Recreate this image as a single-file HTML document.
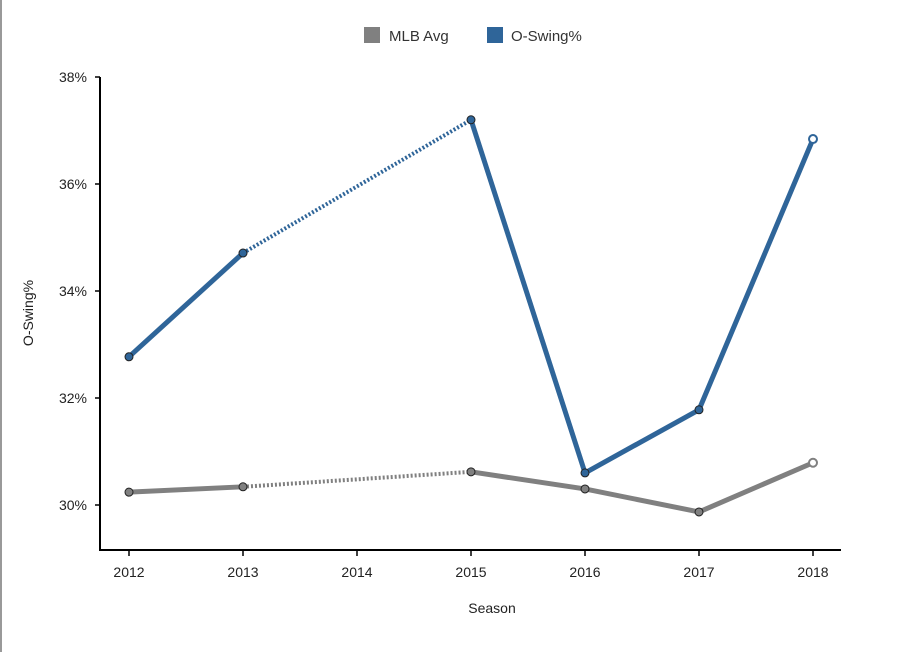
<!DOCTYPE html>
<html><head><meta charset="utf-8"><style>
body{margin:0;background:#fff;}
svg{display:block;font-family:"Liberation Sans",sans-serif;}
</style></head><body>
<svg id="chart" width="900" height="652">
<line x1="1" y1="0" x2="1" y2="652" stroke="#999" stroke-width="2"/>
<g>
<rect x="364" y="27" width="16" height="16" fill="#808080"/>
<text x="389" y="41" font-size="15" fill="#333">MLB Avg</text>
<rect x="487" y="27" width="16" height="16" fill="#2f6599"/>
<text x="511" y="41" font-size="15" fill="#333">O-Swing%</text>
</g>
<g id="axes"></g>
<g id="series"></g>
<text x="33" y="313" font-size="14" fill="#222" text-anchor="middle" transform="rotate(-90 33 313)">O-Swing%</text>
<text x="492" y="613" font-size="14" fill="#222" text-anchor="middle">Season</text>
</svg>
<script>
const years = [2012, 2013, 2014, 2015, 2016, 2017, 2018];
const yTicks = [30, 32, 34, 36, 38];
const oswingYears = [2012, 2013, 2015, 2016, 2017, 2018];
const oswingValues = [32.77, 34.71, 37.2, 30.6, 31.78, 36.84];
const mlbYears = [2012, 2013, 2015, 2016, 2017, 2018];
const mlbValues = [30.24, 30.34, 30.62, 30.3, 29.87, 30.79];

const NS = "http://www.w3.org/2000/svg";
const X = y => 129 + (y - 2012) * 114;
const Y = v => 505 - (v - 30) * 53.5;
function mk(tag, attrs, parent) {
  const e = document.createElementNS(NS, tag);
  for (const k in attrs) e.setAttribute(k, attrs[k]);
  parent.appendChild(e);
  return e;
}
const axes = document.getElementById('axes');
const series = document.getElementById('series');
let a = mk('line', {x1:100, y1:77, x2:100, y2:550, stroke:'#000', 'stroke-width':2}, axes);


a = mk('line', {x1:99, y1:550, x2:841, y2:550, stroke:'#000', 'stroke-width':2}, axes);


yTicks.forEach(t => {
  const y = Y(t);
  const tk = mk('line', {x1:95, y1:y, x2:100, y2:y, stroke:'#000', 'stroke-width':1.5}, axes);
  
  
  const tx = mk('text', {x:87, y:y + 5, 'font-size':14, fill:'#222', 'text-anchor':'end'}, axes);
  tx.textContent = t + '%';
  
  
});
years.forEach(yr => {
  const x = X(yr);
  const tk = mk('line', {x1:x, y1:550, x2:x, y2:556, stroke:'#000', 'stroke-width':1.5}, axes);
  
  
  const tx = mk('text', {x:x, y:577, 'font-size':14, fill:'#222', 'text-anchor':'middle'}, axes);
  tx.textContent = yr;
  
  
});
function draw(yrs, vals, color, name) {
  for (let i = 0; i < yrs.length - 1; i++) {
    const gap = yrs[i + 1] - yrs[i] > 1;
    const seg = mk('line', {x1:X(yrs[i]), y1:Y(vals[i]), x2:X(yrs[i+1]), y2:Y(vals[i+1]), stroke:color, 'stroke-width':gap ? 4 : 5, 'stroke-dasharray':gap ? '2 2' : 'none'}, series);
    
    
  }
  yrs.forEach((yr, i) => {
    const last = i === yrs.length - 1;
    const c = mk('circle', {cx:X(yr), cy:Y(vals[i]), r:4, fill:last ? '#fff' : color, stroke:last ? color : '#222', 'stroke-width':last ? 2 : 1}, series);
    
    
  });
}
draw(mlbYears, mlbValues, '#808080', 'mlb-avg');
draw(oswingYears, oswingValues, '#2f6599', 'o-swing');
</script>
</body></html>
